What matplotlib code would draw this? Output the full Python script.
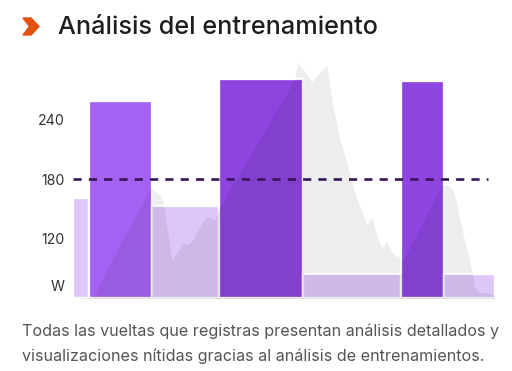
import numpy as np
import matplotlib.pyplot as plt
from matplotlib.patches import Polygon

plt.rcParams['font.family'] = ['Inter', 'DejaVu Sans']

# laps: duration (time units) and average power (W)
lap_len = [16, 63, 67, 84, 98, 43, 51]
lap_power = [161, 259, 153, 281, 84, 279, 84]
lap_kind = ['rest', 'work1', 'rest', 'work2', 'rest', 'work2', 'rest']

# power trace behind the laps
trace_t = [0, 20, 78, 83, 88, 90, 99, 104, 110, 115, 120, 130, 135, 142, 147,
           222, 225, 232, 239, 254, 260, 267, 274, 279, 284, 289, 294, 299, 304,
           309, 314, 319, 324, 327, 330, 369, 374, 379, 384, 390, 397, 402, 407,
           417, 422]
trace_w = [60, 61, 172, 167, 163, 159, 99, 106, 116, 114, 119, 137, 142, 139, 152,
           280, 298, 288, 278, 295, 254, 221, 197, 177, 161, 147, 134, 141, 124,
           111, 117, 107, 101, 104, 97, 174, 174, 171, 156, 126, 98, 71, 66,
           65, 63]

target = 180
ytick_vals = [73, 120, 180, 240]
ytick_text = ['W', '120', '180', '240']

colors = {'rest': '#dfc6f9', 'work1': '#a562f2', 'work2': '#8e44de'}

W, H = 512, 371
fig = plt.figure(figsize=(W / 100, H / 100), dpi=100)
fig.patch.set_facecolor('white')

x0, x1 = 72.7, 494.7
ybot, ytop = 298.3, 54.8
ax = fig.add_axes([x0 / W, 1 - ybot / H, (x1 - x0) / W, (ybot - ytop) / H])
ax.set_xlim(0, sum(lap_len))
ax.set_ylim(60, 305)

# grey power trace
ax.fill_between(trace_t, 60, trace_w, color='#ededed', lw=0, zorder=1)

lefts = np.concatenate([[0], np.cumsum(lap_len)[:-1]])
bars = ax.bar(lefts, np.array(lap_power) - 60, width=lap_len, bottom=60,
              align='edge', color=[colors[k] for k in lap_kind],
              edgecolor='white', linewidth=1.65, zorder=2)

# darker where the trace sits under each lap bar
for rect in bars:
    shade = ax.fill_between(trace_t, 60, trace_w, color='black', alpha=0.07,
                            lw=0, zorder=3)
    shade.set_clip_path(rect)

ax.hlines(target, 0, 415, colors='#361657', lw=1.9, linestyles=(0, (3.1, 2.7)),
          zorder=4)

ax.set_xticks([])
ax.set_yticks(ytick_vals)
ax.set_yticklabels(ytick_text, fontsize=10.2, color='#333333')
ax.tick_params(axis='y', length=0, pad=5.5)
for s in ax.spines.values():
    s.set_visible(False)

# title with chevron icon
chev = [(23, 18), (31, 18), (39, 26.5), (31, 35), (23, 35), (29.5, 26.5)]
fig.patches.append(Polygon([(x / W, 1 - y / H) for x, y in chev], closed=True,
                           transform=fig.transFigure, color='#e4500f'))
fig.text(58 / W, 1 - 27 / H, 'Análisis del entrenamiento', fontsize=18.2,
         fontweight='medium', color='#1e1e1e', va='center', ha='left')

fig.text(22 / W, 1 - 331 / H,
         'Todas las vueltas que registras presentan análisis detallados y',
         fontsize=11.6, color='#555555', va='center', ha='left')
fig.text(22 / W, 1 - 356 / H,
         'visualizaciones nítidas gracias al análisis de entrenamientos.',
         fontsize=11.6, color='#555555', va='center', ha='left')

fig.savefig('out.png', dpi=100)
